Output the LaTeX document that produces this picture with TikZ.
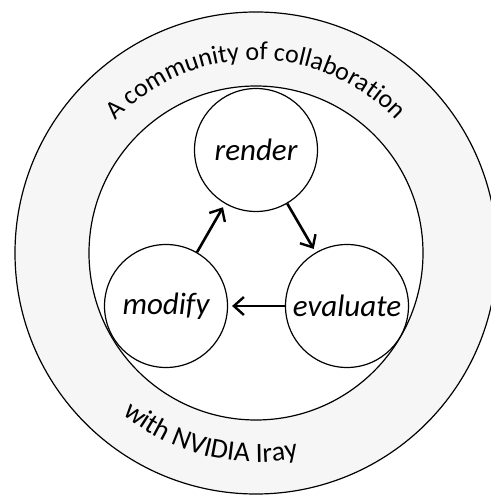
\documentclass[tikz,border=0pt]{standalone}
\usepackage{fontspec}
\setmainfont{Carlito}
\usepackage{tikz}
\usetikzlibrary{arrows.meta,decorations.text}

\begin{document}
\begin{tikzpicture}[x=1pt,y=1pt,
  stage/.style={circle,draw,fill=white,line width=1.2pt,minimum size=123pt,inner sep=0pt,
    font=\fontsize{31}{31}\selectfont\itshape},
  flow/.style={line width=2.6pt,-{Straight Barb[length=10pt,width=18pt,line width=2.4pt]},shorten >=4pt}]
\useasboundingbox (-256,-242) rectangle (234,253);
% outer ring and inner disc
\draw[line width=1.2pt,fill=gray!7] (0,0) circle (241);
\draw[line width=1.2pt,fill=white] (0,0) circle (167);
% ring texts
\path[decorate,decoration={text along path,text align=center,
  text={|\fontsize{26}{26}\selectfont|A community of collaboration}}]
  (180:193) arc (180:0:193);
\path[decorate,decoration={text along path,text align=center,
  text={|\fontsize{28}{28}\selectfont|with NVIDIA Iray}}]
  (166:209) arc (166:346:209);
% the cycle
\node[stage] (render) at (0,103) {render};
\node[stage] (modify) at (-90,-53) {modify};
\node[stage] (evaluate) at (91,-53) {evaluate};
\draw[flow] (render) -- (evaluate);
\draw[flow] (evaluate) -- (modify);
\draw[flow] (modify) -- (render);
\end{tikzpicture}
\end{document}
